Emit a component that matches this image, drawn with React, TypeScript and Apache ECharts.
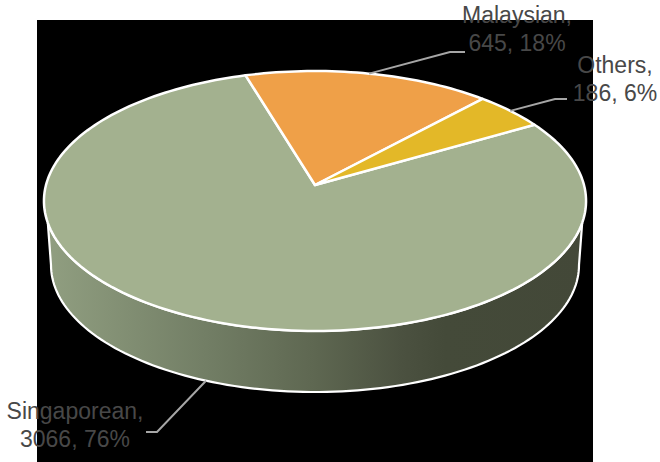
import React, { useEffect, useRef } from "react";
import * as echarts from "echarts";

const categories = ["Singaporean", "Malaysian", "Others"];
const counts = [3066, 645, 186];
const shareLabels = ["76%", "18%", "6%"];
const sliceColors = ["#A3B18F", "#EFA048", "#E3B828"];

const FIRST_SLICE_START = 60.0;
const LABEL_FONT = '23px "Liberation Sans", sans-serif';
const LABEL_COLOR = "#484848";
const LEADER_COLOR = "#A6A6A6";
const LABEL_LAYOUT = [
  { x: 75, y: 397, elbowX: 157, elbowY: 432, endX: 146, onBase: true },
  { x: 517, y: 1, elbowX: 450, elbowY: 52, endX: 465, onBase: false },
  { x: 615, y: 51, elbowX: 555, elbowY: 99, endX: 567, onBase: false },
];

// Perspective projection of the disc: k tilts the far edge away from the viewer.
const K = -0.123;
const TOP_FACE = { cx: 315, cy: 185, a: 269, b: 128 };
const BASE_FACE = { cx: 315, cy: 249.5, a: 262, b: 125 };

type Face = typeof TOP_FACE;

function project(face: Face, deg: number): number[] {
  const rad = (deg * Math.PI) / 180;
  const X = Math.sin(rad);
  const Y = -Math.cos(rad);
  const d = 1 + K * Y;
  return [face.cx + (face.a * X) / d, face.cy + (face.b * Y) / d];
}

function arc(face: Face, from: number, to: number): number[][] {
  const steps = Math.max(2, Math.ceil(Math.abs(to - from) / 1.5));
  const pts: number[][] = [];
  for (let i = 0; i <= steps; i++) pts.push(project(face, from + ((to - from) * i) / steps));
  return pts;
}

// Angular span of each slice, clockwise from the far edge of the disc.
const total = counts.reduce((s, v) => s + v, 0);
const spans = counts.map((_, i) => {
  const before = counts.slice(0, i).reduce((s, v) => s + v, 0);
  return [
    FIRST_SLICE_START + (before / total) * 360,
    FIRST_SLICE_START + ((before + counts[i]) / total) * 360,
  ];
});

// Silhouette tangents of the wall on each face.
const WALL_TOP = [106.6, 253.4];
const WALL_BASE = [97, 263];

const wallGradient = new echarts.graphic.LinearGradient(
  44, 0, 586, 0,
  [
    { offset: 0, color: "#919F81" },
    { offset: 0.3, color: "#727E65" },
    { offset: 0.5, color: "#5E6751" },
    { offset: 0.66, color: "#4B5140" },
    { offset: 0.74, color: "#444A39" },
    { offset: 1, color: "#434838" },
  ],
  true
);

function renderSlice(_params: any, api: any) {
  const i = api.value(0);
  const [start, end] = spans[i];
  const mid = (start + end) / 2;
  const layout = LABEL_LAYOUT[i];
  const children: any[] = [];

  const topStart = Math.max(start, WALL_TOP[0]);
  const topEnd = Math.min(end, WALL_TOP[1]);
  if (topStart < topEnd) {
    const edge = arc(TOP_FACE, topStart, topEnd);
    const base = arc(BASE_FACE, Math.min(end, WALL_BASE[1]), Math.max(start, WALL_BASE[0]));
    children.push({
      type: "polygon",
      shape: { points: edge.concat(base) },
      style: { fill: wallGradient, stroke: "#FFFFFF", lineWidth: 2.2 },
    });
  }

  children.push({
    type: "polygon",
    shape: { points: [[TOP_FACE.cx, TOP_FACE.cy]].concat(arc(TOP_FACE, start, end)) },
    style: { fill: sliceColors[i], stroke: "#FFFFFF", lineWidth: 2.5, lineJoin: "round" },
  });

  const anchor = project(layout.onBase ? BASE_FACE : TOP_FACE, mid);
  children.push({
    type: "polyline",
    shape: {
      points: [anchor, [layout.elbowX, layout.elbowY], [layout.endX, layout.elbowY]],
    },
    style: { fill: "none", stroke: LEADER_COLOR, lineWidth: 2 },
  });

  children.push({
    type: "text",
    style: {
      x: layout.x,
      y: layout.y,
      text: `${categories[i]},\n${counts[i]}, ${shareLabels[i]}`,
      font: LABEL_FONT,
      fill: LABEL_COLOR,
      align: "center",
      verticalAlign: "top",
      lineHeight: 28,
    },
  });

  return { type: "group", children };
}

export default function App() {
  const ref = useRef<HTMLDivElement>(null);

  useEffect(() => {
    const chart = echarts.init(ref.current!, undefined, { renderer: "svg" });
    chart.setOption({
      animation: false,
      backgroundColor: "#FFFFFF",
      graphic: [
        {
          type: "rect",
          z: -1,
          silent: true,
          shape: { x: 37, y: 20, width: 556, height: 442 },
          style: { fill: "#000000" },
        },
      ],
      series: [
        {
          type: "custom",
          coordinateSystem: "none",
          silent: true,
          renderItem: renderSlice,
          data: counts.map((v, i) => [i, v]),
        },
      ],
    });
    return () => chart.dispose();
  }, []);

  return <div ref={ref} style={{ position: "fixed", left: 0, top: 0, width: 660, height: 462 }} />;
}
